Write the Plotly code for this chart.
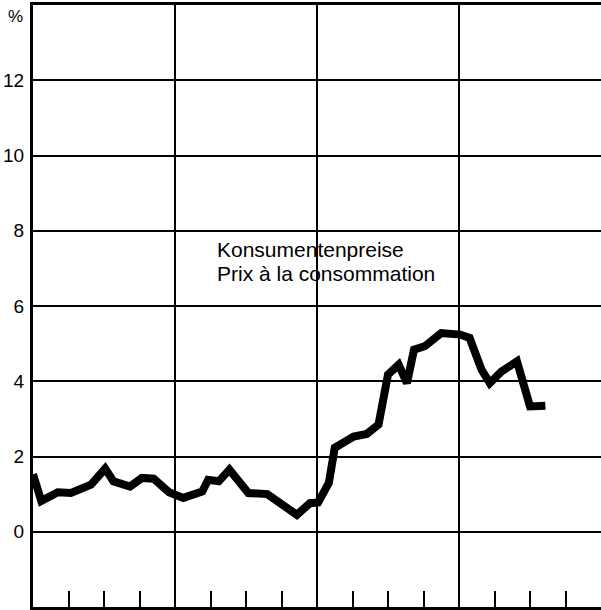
import plotly.graph_objects as go

# Time position in months from the left edge (4 years, quarterly ticks)
monat = [0, 0.7, 2.1, 3.2, 4.9, 6.1, 6.8, 8.2, 9.2, 10.2, 11.5, 12.7, 14.3, 14.8,
         15.7, 16.6, 18.2, 19.8, 22.3, 23.4, 24.1, 25.0, 25.5, 27.1, 28.2, 29.2,
         30.0, 30.9, 31.6, 32.2, 33.1, 34.5, 36.1, 36.9, 37.9, 38.6, 39.6, 40.9,
         42.0, 43.3]
# Consumer price change, %
konsumentenpreise = [1.53, 0.82, 1.05, 1.03, 1.25, 1.68, 1.34, 1.20, 1.43, 1.41,
                     1.05, 0.90, 1.07, 1.38, 1.34, 1.65, 1.03, 1.00, 0.45, 0.76,
                     0.78, 1.30, 2.23, 2.53, 2.60, 2.85, 4.18, 4.44, 3.95, 4.84,
                     4.93, 5.28, 5.24, 5.15, 4.31, 3.95, 4.26, 4.53, 3.33, 3.35]

y_ticks = [0, 2, 4, 6, 8, 10, 12]
y_ticktext = ["0", "2", "4", "6", "8", "10", "12"]
year_lines = [12, 24, 36]
label_lines = ["Konsumentenpreise", "Prix à la consommation"]

FONT = "Liberation Sans, Arial, Helvetica, sans-serif"

fig = go.Figure()
fig.add_trace(go.Scatter(
    x=monat, y=konsumentenpreise, mode="lines",
    line=dict(color="black", width=8),
    hoverinfo="skip", showlegend=False,
))

fig.update_layout(
    width=601, height=610,
    margin=dict(l=33, r=0, t=5, b=3, autoexpand=False),
    paper_bgcolor="white", plot_bgcolor="white",
    font=dict(family=FONT, color="black", size=18),
    showlegend=False,
)

fig.update_xaxes(
    range=[0, 48],
    tickvals=year_lines,
    showticklabels=False,
    showgrid=True, gridcolor="black", gridwidth=1.5,
    ticks="inside", ticklen=16, tickwidth=1.5, tickcolor="black",
    minor=dict(tick0=0, dtick=3, ticks="inside", ticklen=16, tickwidth=1.5,
               tickcolor="black", showgrid=False),
    showline=True, linecolor="black", linewidth=3, mirror=True,
    zeroline=False, automargin=False,
)

fig.update_yaxes(
    range=[-2, 14],
    tickvals=y_ticks, ticktext=y_ticktext,
    showgrid=True, gridcolor="black", gridwidth=1.5,
    ticks="", ticklabelstandoff=2,
    tickfont=dict(size=19, family=FONT, color="black"),
    showline=True, linecolor="black", linewidth=3, mirror=False,
    zeroline=False, automargin=False,
)

fig.add_annotation(x=-0.031, xref="paper", y=13.7, yref="y", text="%",
                   showarrow=False, xanchor="center", yanchor="middle",
                   font=dict(size=17, family=FONT, color="black"))

label_html = "<br>".join(
    "<span style='font-size:21px'>%s</span>" % s for s in label_lines)
fig.add_annotation(x=15.35, y=7.17, text=label_html, showarrow=False,
                   xanchor="left", yanchor="middle", align="left",
                   font=dict(size=18.5, family=FONT, color="black"))

fig.write_html("out.html", config={"displayModeBar": False},
               post_script="document.body.style.margin='0px';")
